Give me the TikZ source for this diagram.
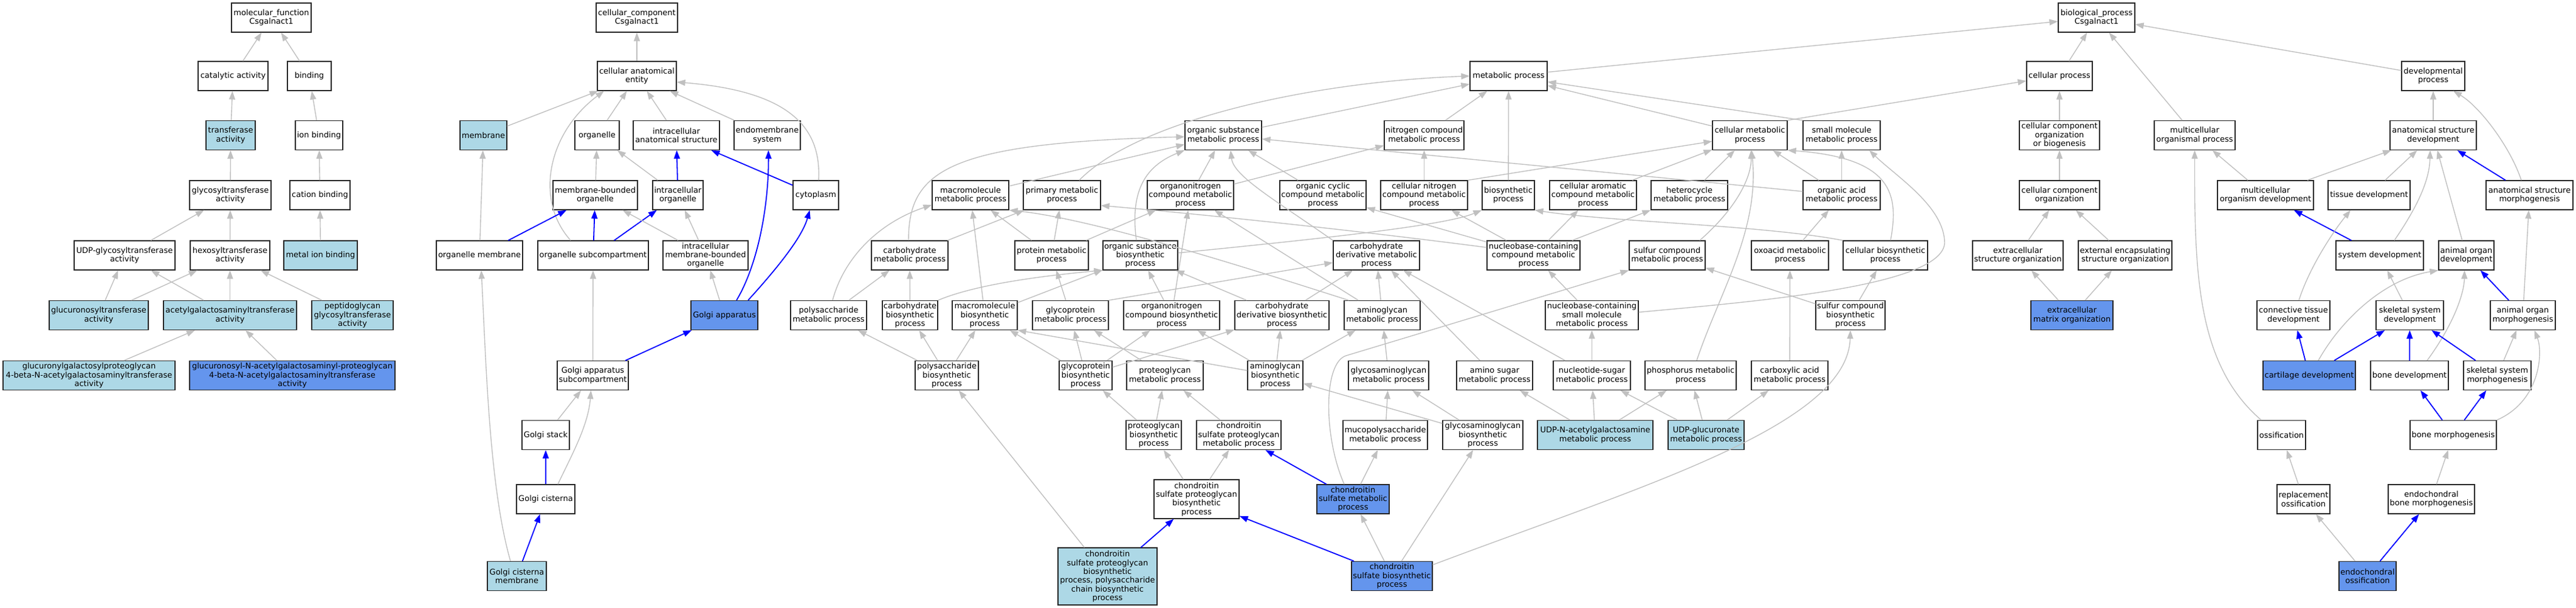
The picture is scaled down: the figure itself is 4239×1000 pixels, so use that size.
\documentclass[tikz,border=0pt]{standalone}
\usepackage{fontspec}
\setmainfont{DejaVu Sans}
\usetikzlibrary{arrows.meta}
\definecolor{lightblue}{RGB}{173,216,230}
\definecolor{cornflower}{RGB}{100,149,237}
\definecolor{edgegray}{RGB}{192,192,192}
\begin{document}
\begin{tikzpicture}[x=1pt,y=-1pt,
  term/.style={draw=black!85,line width=1.2pt,rectangle,fill=white,inner sep=0pt,align=center,minimum height=48pt,minimum width=#1pt,font=\fontsize{13}{14.3}\selectfont},
  lb/.style={term=#1,fill=lightblue},
  cb/.style={term=#1,fill=cornflower},
  isa/.style={draw=edgegray,line width=1.4pt,-{Triangle[length=14pt,width=10pt]}},
  partof/.style={draw=blue,line width=1.8pt,-{Triangle[length=14pt,width=10pt]}}]
\fill[white] (0,0) rectangle (4239,1000);
\useasboundingbox (0,0) rectangle (4239,1000);

\node[term=131] (mf) at (446.5,29) {molecular\_function\\Csgalnact1};
\node[term=115] (cat) at (383.5,125) {catalytic activity};
\node[term=72] (bind) at (509,125) {binding};
\node[lb=81] (trans) at (379.5,222.5) {transferase\\activity};
\node[term=78] (ionb) at (525,222.5) {ion binding};
\node[term=134] (glyt) at (379,321) {glycosyltransferase\\activity};
\node[term=99] (catb) at (526.5,321) {cation binding};
\node[term=166] (udpg) at (205,420) {UDP-glycosyltransferase\\activity};
\node[term=131] (hexo) at (378.5,420) {hexosyltransferase\\activity};
\node[lb=121] (metb) at (527.5,420) {metal ion binding};
\node[lb=163] (gluc) at (162.5,518.5) {glucuronosyltransferase\\activity};
\node[lb=219] (acet) at (378.5,518.5) {acetylgalactosaminyltransferase\\activity};
\node[lb=134] (pept) at (580,518.5) {peptidoglycan\\glycosyltransferase\\activity};
\node[lb=283] (gugal) at (146.5,617.5) {glucuronylgalactosylproteoglycan\\4-beta-N-acetylgalactosaminyltransferase\\activity};
\node[cb=338] (gunac) at (481,617.5) {glucuronosyl-N-acetylgalactosaminyl-proteoglycan\\4-beta-N-acetylgalactosaminyltransferase\\activity};

\node[term=134] (cc) at (1048,29) {cellular\_component\\Csgalnact1};
\node[term=130] (cae) at (1048,125) {cellular anatomical\\entity};
\node[lb=77] (memb) at (795.5,222.5) {membrane};
\node[term=73] (org) at (982.5,222.5) {organelle};
\node[term=142] (ias) at (1113,222.5) {intracellular\\anatomical structure};
\node[term=109] (endo) at (1262.5,222.5) {endomembrane\\system};
\node[term=139] (mbo) at (979.5,321) {membrane-bounded\\organelle};
\node[term=83] (io) at (1115.5,321) {intracellular\\organelle};
\node[term=75] (cyto) at (1342.5,321) {cytoplasm};
\node[term=142] (orgm) at (789,420) {organelle membrane};
\node[term=182] (osub) at (976,420) {organelle subcompartment};
\node[term=140] (imbo) at (1161,420) {intracellular\\membrane-bounded\\organelle};
\node[cb=110] (golgi) at (1192,518.5) {Golgi apparatus};
\node[term=117] (gasub) at (975.5,617.5) {Golgi apparatus\\subcompartment};
\node[term=78] (gstack) at (898,715.5) {Golgi stack};
\node[term=96] (gcis) at (898,821) {Golgi cisterna};
\node[lb=97] (gcm) at (850.5,947.5) {Golgi cisterna\\membrane};

\node[term=126] (bp) at (3450,29) {biological\_process\\Csgalnact1};
\node[term=127] (metp) at (2482.5,125) {metabolic process};
\node[term=108] (cellp) at (3389,125) {cellular process};
\node[term=104] (devp) at (4004,125) {developmental\\process};
\node[term=126] (osm) at (2013,222.5) {organic substance\\metabolic process};
\node[term=131] (ncm) at (2343.5,222.5) {nitrogen compound\\metabolic process};
\node[term=123] (cmp) at (2879.5,222.5) {cellular metabolic\\process};
\node[term=127] (smm) at (3030.5,222.5) {small molecule\\metabolic process};
\node[term=132] (ccob) at (3389,222.5) {cellular component\\organization\\or biogenesis};
\node[term=133] (mop) at (3611.5,222.5) {multicellular\\organismal process};
\node[term=142] (asd) at (4004,222.5) {anatomical structure\\development};
\node[term=126] (mmp) at (1597,321) {macromolecule\\metabolic process};
\node[term=127] (pmp) at (1747.5,321) {primary metabolic\\process};
\node[term=142] (oncm) at (1959,321) {organonitrogen\\compound metabolic\\process};
\node[term=142] (occm) at (2177,321) {organic cyclic\\compound metabolic\\process};
\node[term=143] (cncm) at (2343.5,321) {cellular nitrogen\\compound metabolic\\process};
\node[term=86] (bsp) at (2482,321) {biosynthetic\\process};
\node[term=143] (cacm) at (2621.5,321) {cellular aromatic\\compound metabolic\\process};
\node[term=126] (hcm) at (2780,321) {heterocycle\\metabolic process};
\node[term=127] (oam) at (3030.5,321) {organic acid\\metabolic process};
\node[term=132] (cco) at (3389,321) {cellular component\\organization};
\node[term=158] (mod) at (3728,321) {multicellular\\organism development};
\node[term=135] (tisd) at (3898.5,321) {tissue development};
\node[term=143] (asm) at (4162.5,321) {anatomical structure\\morphogenesis};
\node[term=126] (cbm) at (1497,420) {carbohydrate\\metabolic process};
\node[term=121] (prm) at (1730.5,420) {protein metabolic\\process};
\node[term=123] (osb) at (1876.5,420) {organic substance\\biosynthetic\\process};
\node[term=142] (cdm) at (2265,420) {carbohydrate\\derivative metabolic\\process};
\node[term=153] (ncc) at (2523.5,420) {nucleobase-containing\\compound metabolic\\process};
\node[term=125] (scm) at (2743.5,420) {sulfur compound\\metabolic process};
\node[term=127] (oxm) at (2945.5,420) {oxoacid metabolic\\process};
\node[term=139] (cbp) at (3102.5,420) {cellular biosynthetic\\process};
\node[term=149] (eso) at (3320.5,420) {extracellular\\structure organization};
\node[term=154] (eeso) at (3497,420) {external encapsulating\\structure organization};
\node[term=144] (sysd) at (3916,420) {system development};
\node[term=91] (aod) at (4058.5,420) {animal organ\\development};
\node[term=125] (psm) at (1363.5,518.5) {polysaccharide\\metabolic process};
\node[term=91] (cbb) at (1497.5,518.5) {carbohydrate\\biosynthetic\\process};
\node[term=107] (mmb) at (1620.5,518.5) {macromolecule\\biosynthetic\\process};
\node[term=125] (gpm) at (1761.5,518.5) {glycoprotein\\metabolic process};
\node[term=158] (oncb) at (1928,518.5) {organonitrogen\\compound biosynthetic\\process};
\node[term=155] (cdb) at (2109.5,518.5) {carbohydrate\\derivative biosynthetic\\process};
\node[term=125] (agm) at (2274.5,518.5) {aminoglycan\\metabolic process};
\node[term=153] (ncsm) at (2619.5,518.5) {nucleobase-containing\\small molecule\\metabolic process};
\node[term=114] (scb) at (3045,518.5) {sulfur compound\\biosynthetic\\process};
\node[cb=135] (emo) at (3409.5,518.5) {extracellular\\matrix organization};
\node[term=120] (ctd) at (3774,518.5) {connective tissue\\development};
\node[term=111] (ssd) at (3965.5,518.5) {skeletal system\\development};
\node[term=107] (aom) at (4151.5,518.5) {animal organ\\morphogenesis};
\node[term=104] (psb) at (1558,617.5) {polysaccharide\\biosynthetic\\process};
\node[term=87] (gpb) at (1786.5,617.5) {glycoprotein\\biosynthetic\\process};
\node[term=126] (pgm) at (1917,617.5) {proteoglycan\\metabolic process};
\node[term=91] (agb) at (2098.5,617.5) {aminoglycan\\biosynthetic\\process};
\node[term=132] (gagm) at (2285,617.5) {glycosaminoglycan\\metabolic process};
\node[term=125] (asmp) at (2459.5,617.5) {amino sugar\\metabolic process};
\node[term=127] (nsm) at (2619.5,617.5) {nucleotide-sugar\\metabolic process};
\node[term=150] (phm) at (2782,617.5) {phosphorus metabolic\\process};
\node[term=126] (cam) at (2945,617.5) {carboxylic acid\\metabolic process};
\node[cb=152] (card) at (3800,617.5) {cartilage development};
\node[term=128] (boned) at (3965,617.5) {bone development};
\node[term=111] (ssm) at (4109.5,617.5) {skeletal system\\morphogenesis};
\node[term=91] (pgb) at (1898.5,715.5) {proteoglycan\\biosynthetic\\process};
\node[term=139] (cspgm) at (2038.5,715.5) {chondroitin\\sulfate proteoglycan\\metabolic process};
\node[term=139] (mpsm) at (2279.5,715.5) {mucopolysaccharide\\metabolic process};
\node[term=132] (gagb) at (2440,715.5) {glycosaminoglycan\\biosynthetic\\process};
\node[lb=190] (udpn) at (2625,715.5) {UDP-N-acetylgalactosamine\\metabolic process};
\node[lb=125] (udpgl) at (2807.5,715.5) {UDP-glucuronate\\metabolic process};
\node[term=79] (oss) at (3754.5,715.5) {ossification};
\node[term=142] (bonem) at (4037,715.5) {bone morphogenesis};
\node[term=140,minimum height=64pt] (cspgb) at (1969,821) {chondroitin\\sulfate proteoglycan\\biosynthetic\\process};
\node[cb=119] (csm) at (2226.5,821) {chondroitin\\sulfate metabolic\\process};
\node[term=87] (repo) at (3790.5,821) {replacement\\ossification};
\node[term=142] (ebm) at (4001,821) {endochondral\\bone morphogenesis};
\node[lb=163,minimum height=94pt] (cspgc) at (1822.5,948) {chondroitin\\sulfate proteoglycan\\biosynthetic\\process, polysaccharide\\chain biosynthetic\\process};
\node[cb=133] (csb) at (2290.5,947.5) {chondroitin\\sulfate biosynthetic\\process};
\node[cb=94] (eo) at (3896,947.5) {endochondral\\ossification};

\draw[isa] (cat) -- (mf);
\draw[isa] (bind) -- (mf);
\draw[isa] (trans) -- (cat);
\draw[isa] (ionb) -- (bind);
\draw[isa] (glyt) -- (trans);
\draw[isa] (catb) -- (ionb);
\draw[isa] (udpg) -- (glyt);
\draw[isa] (hexo) -- (glyt);
\draw[isa] (metb) -- (catb);
\draw[isa] (gluc) -- (udpg);
\draw[isa] (gluc) -- (hexo);
\draw[isa] (acet) -- (udpg);
\draw[isa] (acet) -- (hexo);
\draw[isa] (pept) -- (hexo);
\draw[isa] (gugal) -- (acet);
\draw[isa] (gunac) -- (acet);

\draw[isa] (cae) -- (cc);
\draw[isa] (memb) -- (cae);
\draw[isa] ([xshift=-37pt]osub.north) .. controls (880,330) and (900,220) .. ([xshift=-54pt]cae.south);
\draw[isa] (org) -- (cae);
\draw[isa] (ias) -- (cae);
\draw[isa] (endo) -- (cae);
\draw[isa] ([xshift=4.5pt]cyto.north) .. controls (1352,210) and (1300,150) .. ([yshift=-10pt]cae.east);
\draw[isa] (mbo) -- (org);
\draw[isa] (io) -- (org);
\draw[partof] (io) -- (ias);
\draw[partof] (cyto) -- (ias);
\draw[partof] (orgm) -- (mbo);
\draw[partof] (osub) -- (mbo);
\draw[partof] (osub) -- (io);
\draw[isa] (imbo) -- (mbo);
\draw[isa] (imbo) -- (io);
\draw[partof] ([xshift=20pt]golgi.north) .. controls (1250,430) and (1265,330) .. ([xshift=2pt]endo.south);
\draw[partof] ([xshift=39pt]golgi.north) .. controls (1280,440) and (1320,390) .. ([xshift=-10pt]cyto.south);
\draw[isa] (golgi) -- (imbo);
\draw[isa] (orgm) -- (memb);
\draw[isa] (gasub) -- (osub);
\draw[partof] (gasub) -- (golgi);
\draw[isa] (gstack) -- (gasub);
\draw[isa] ([xshift=20pt]gcis.north) .. controls (940,750) and (968,700) .. ([xshift=-3pt]gasub.south);
\draw[partof] (gcis) -- (gstack);
\draw[partof] (gcm) -- (gcis);
\draw[isa] ([xshift=-10.5pt]gcm.north) .. controls (805,800) and (800,600) .. ([xshift=3pt]orgm.south);

\draw[isa] (metp) -- (bp);
\draw[isa] (cellp) -- (bp);
\draw[isa] (mop) -- (bp);
\draw[isa] (devp) -- (bp);
\draw[isa] (osm) -- (metp);
\draw[isa] (ncm) -- (metp);
\draw[isa] ([xshift=28.5pt]pmp.north) .. controls (1870,200) and (2150,135) .. (metp.west);
\draw[isa] (bsp) -- (metp);
\draw[isa] (cmp) -- (metp);
\draw[isa] (smm.north west) -- (metp);
\draw[isa] (cmp.north east) -- ([yshift=-8pt]cellp.west);
\draw[isa] (ccob) -- (cellp);
\draw[isa] (cco) -- (ccob);
\draw[isa] (eso) -- (cco);
\draw[isa] (eeso) -- (cco);
\draw[isa] (emo) -- (eso);
\draw[isa] (emo) -- (eeso);
\draw[isa] (asd) -- (devp);
\draw[isa] ([xshift=-13.5pt]asm.north) .. controls (4130,240) and (4080,175) .. ([xshift=33pt]devp.south);
\draw[isa] (mod) -- (mop);
\draw[isa] ([xshift=-33.5pt]oss.north) .. controls (3615,600) and (3611,450) .. (mop.south);
\draw[isa] (mod) -- (asd);
\draw[isa] (tisd) -- (asd);
\draw[isa] ([xshift=24pt]sysd.north) .. controls (3985,330) and (3998,290) .. ([xshift=-5pt]asd.south);
\draw[isa] (aod) -- (asd);
\draw[partof] (asm) -- (asd);
\draw[partof] (sysd) -- (mod);
\draw[isa] ([xshift=9pt]ctd.north) .. controls (3800,440) and (3840,380) .. ([xshift=-30.5pt]tisd.south);
\draw[isa] ([xshift=15pt]card.north) .. controls (3850,530) and (3920,460) .. (aod.south west);
\draw[isa] (ssd) -- (sysd);
\draw[isa] ([xshift=29pt]boned.north) .. controls (4040,530) and (4055,480) .. ([xshift=-3pt]aod.south);
\draw[partof] (aom) -- (aod);
\draw[isa] (aom) -- (asm);
\draw[partof] (card) -- (ctd);
\draw[partof] (card) -- (ssd);
\draw[partof] (boned) -- (ssd);
\draw[partof] (ssm) -- (ssd);
\draw[isa] (ssm) -- (aom);
\draw[partof] (bonem) -- (boned);
\draw[partof] (bonem) -- (ssm);
\draw[isa] (bonem.north east) .. controls (4180,660) and (4185,580) .. ([xshift=19pt]aom.south);
\draw[isa] (repo) -- (oss);
\draw[isa] (ebm) -- (bonem);
\draw[isa] (eo) -- (repo);
\draw[partof] (eo) -- (ebm);

\draw[isa] ([xshift=-2pt]cbm.north) .. controls (1495,280) and (1560,235) .. ([yshift=-2.5pt]osm.west);
\draw[isa] (mmp) -- (osm);
\draw[isa] ([xshift=-6.5pt]osb.north) .. controls (1860,320) and (1880,275) .. (osm.south west);
\draw[isa] (oncm) -- (osm);
\draw[isa] (cdm.north west) .. controls (2100,330) and (2030,290) .. ([xshift=12pt]osm.south);
\draw[isa] (occm) -- (osm);
\draw[isa] (oam) -- (osm);
\draw[isa] (oncm) -- (ncm);
\draw[isa] (cncm) -- (ncm);
\draw[isa] (cncm.north east) -- (cmp);
\draw[isa] (prm) -- (oncm);
\draw[isa] (oncb) -- (oncm);
\draw[isa] (agm) -- (oncm);
\draw[isa] (prm) -- (pmp);
\draw[isa] (cbm) -- (pmp);
\draw[isa] ([yshift=13pt]ncc.west) .. controls (2200,375) and (1950,350) .. ([yshift=-17pt]pmp.east);
\draw[isa] ([xshift=6.5pt]psm.north) .. controls (1390,420) and (1450,365) .. ([yshift=-16pt]mmp.west);
\draw[isa] (mmb) -- (mmp);
\draw[isa] (prm) -- (mmp);
\draw[isa] ([xshift=8pt]agm.north west) .. controls (2050,440) and (1800,360) .. (mmp.south east);
\draw[isa] (psm) -- (cbm);
\draw[isa] (cbb) -- (cbm);
\draw[isa] (gpm) -- (prm);
\draw[isa] (cbb.north east) .. controls (1600,470) and (1700,455) .. (osb.south west);
\draw[isa] (mmb) -- (osb);
\draw[isa] (oncb) -- (osb);
\draw[isa] (cdb) -- (osb);
\draw[isa] ([yshift=4pt]osb.east) .. controls (2200,390) and (2380,370) .. (bsp.south west);
\draw[isa] (gpm.north east) -- (cdm);
\draw[isa] (cdb) -- (cdm);
\draw[isa] (agm) -- (cdm);
\draw[isa] (asmp) -- (cdm);
\draw[isa] (nsm) -- (cdm);
\draw[isa] (ncsm) -- (ncc);
\draw[isa] (ncc) -- (occm);
\draw[isa] (ncc) -- (cncm);
\draw[isa] (ncc) -- (cacm);
\draw[isa] (ncc) -- (hcm);
\draw[isa] (cacm) -- (cmp);
\draw[isa] (hcm) -- (cmp);
\draw[isa] (oam) -- (cmp);
\draw[isa] (oam) -- (smm);
\draw[isa] ([xshift=53.5pt]scm.north) .. controls (2860,340) and (2882,290) .. ([xshift=2pt]cmp.south);
\draw[isa] ([xshift=10pt]phm.north) .. controls (2830,480) and (2895,380) .. ([xshift=3pt]cmp.south);
\draw[isa] ([xshift=8.5pt]cbp.north) .. controls (3125,320) and (3115,260) .. (cmp.south east);
\draw[isa] (cbp.north west) .. controls (2900,370) and (2650,365) .. (bsp.south east);
\draw[isa] ([yshift=5pt]ncsm.east) .. controls (2900,495) and (3195,470) .. (3200,400) .. controls (3200,340) and (3120,290) .. ([xshift=45.5pt]smm.south);
\draw[isa] (scb) -- (scm);
\draw[isa] ([xshift=-14.5pt]csm.north) .. controls (2178,720) and (2177,597) .. (2215,585) -- (scm.south west);
\draw[isa] (scb) -- (cbp);
\draw[isa] (cam) -- (oxm);
\draw[isa] (oxm) -- (oam);

\draw[isa] (psb) -- (psm);
\draw[isa] (psb) -- (cbb);
\draw[isa] (psb) -- (mmb);
\draw[isa] (gpb) -- (mmb);
\draw[isa] (agb) -- (mmb.south east);
\draw[isa] (gpb) -- (gpm);
\draw[isa] (gpb) -- (oncb);
\draw[isa] (gpb) -- (cdb);
\draw[isa] (pgm) -- (gpm);
\draw[isa] (agb) -- (oncb);
\draw[isa] (agb) -- (cdb);
\draw[isa] (agb) -- (agm);
\draw[isa] (gagm) -- (agm);
\draw[isa] (nsm) -- (ncsm);

\draw[isa] (pgb) -- (gpb);
\draw[isa] (pgb) -- (pgm);
\draw[isa] (cspgm) -- (pgm);
\draw[isa] (mpsm) -- (gagm);
\draw[isa] (gagb) -- (agb);
\draw[isa] (gagb) -- (gagm);
\draw[isa] (udpn) -- (asmp);
\draw[isa] (udpn) -- (nsm);
\draw[isa] (udpn) -- (phm);
\draw[isa] (udpgl) -- (nsm);
\draw[isa] (udpgl) -- (phm);
\draw[isa] (udpgl) -- (cam);

\draw[isa] (cspgb) -- (pgb);
\draw[isa] (cspgb) -- (cspgm);
\draw[partof] (csm) -- (cspgm);
\draw[isa] (csm) -- (mpsm);
\draw[partof] (cspgc) -- (cspgb);
\draw[isa] (cspgc) -- (psb);
\draw[partof] (csb) -- (cspgb);
\draw[isa] (csb) -- (csm);
\draw[isa] (csb) -- (gagb);
\draw[isa] ([yshift=18.5pt]csb.east) .. controls (2700,800) and (3040,700) .. (scb.south);
\end{tikzpicture}
\end{document}
